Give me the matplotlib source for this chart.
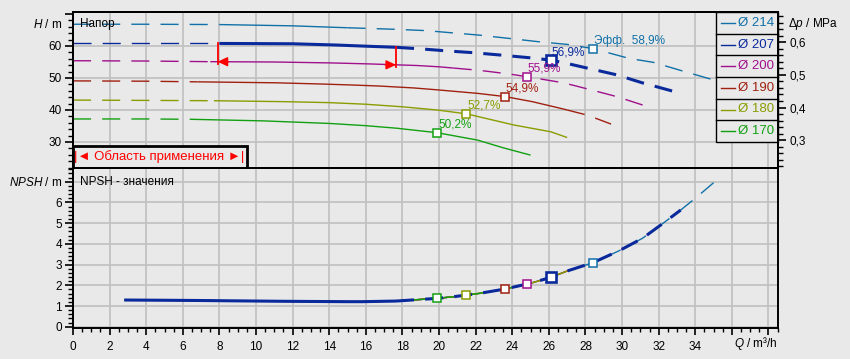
import numpy as np
import matplotlib
matplotlib.use('Agg')
import matplotlib.pyplot as plt
from matplotlib.ticker import MultipleLocator, FixedLocator, FuncFormatter
from matplotlib.patches import Rectangle

plt.rcParams['font.family'] = ['Liberation Sans', 'DejaVu Sans']
plt.rcParams['mathtext.fontset'] = 'custom'
plt.rcParams['mathtext.rm'] = 'Liberation Sans'
plt.rcParams['mathtext.it'] = 'Liberation Sans:italic'
plt.rcParams['lines.scale_dashes'] = False

# ---------------- data ----------------
diameters = ['214', '207', '200', '190', '180', '170']

q_214 = [0, 4, 8, 12, 15, 17.7, 19.3, 22.2, 25.5, 27, 28.4, 30.4, 31.7, 33.3, 35]
h_214 = [66.8, 66.8, 66.7, 66.3, 65.7, 65.2, 64.8, 63.4, 61.3, 60.5, 59.2, 56.1, 54.9, 52.2, 49.4]

q_207 = [0, 4, 8, 12, 14.4, 16.2, 17.65, 19, 20.6, 21.9, 23.3, 25, 26.1, 26.8, 28.4, 29.7, 31.1, 32.7, 33.2]
h_207 = [60.8, 60.8, 60.8, 60.7, 60.3, 59.9, 59.6, 59.1, 58.4, 57.9, 57.2, 56.3, 55.6, 54.8, 52.7, 51.0, 48.5, 46.0, 45.3]

q_200 = [0, 4, 7.5, 11, 14.2, 16.2, 18.8, 20.0, 20.8, 22.2, 23.9, 24.8, 26.8, 28.1, 29.7, 31.1, 31.4]
h_200 = [55.4, 55.3, 55.1, 55.0, 54.7, 54.4, 53.9, 53.5, 53.1, 52.4, 51.2, 50.4, 48.5, 46.6, 44.2, 41.6, 40.8]

q_190 = [0, 4, 6.8, 11.1, 13.7, 15.3, 16.7, 18.6, 19.9, 22.1, 23.6, 25.1, 26.8, 27, 28.1, 29.4]
h_190 = [49.1, 49.0, 48.8, 48.5, 48.1, 47.8, 47.5, 46.9, 46.3, 45.2, 44.2, 42.6, 40.3, 40.0, 38.4, 35.6]

q_180 = [0, 4, 7.7, 11.6, 14, 16, 18, 19.9, 21.5, 24.1, 26.1, 27]
h_180 = [43.1, 43.0, 42.9, 42.6, 42.3, 41.8, 41.0, 40.0, 38.8, 35.3, 33.2, 31.4]

q_170 = [0, 4, 6.4, 10.4, 12.2, 14, 16, 17.7, 19.9, 22.1, 23.5, 25]
h_170 = [37.2, 37.2, 37.1, 36.6, 36.2, 35.8, 35.1, 34.3, 32.9, 30.6, 28.2, 25.9]

q_npsh = [2.8, 6.5, 11.3, 15.0, 15.8, 17.65, 19.9, 20.8, 21.5, 22.2, 23.6, 24.8, 25.0, 26.1, 27.0,
          28.4, 29.4, 29.8, 31.1, 31.4, 32.1, 33.2, 34.1, 35.0]
npsh = [1.29, 1.27, 1.23, 1.21, 1.21, 1.24, 1.37, 1.45, 1.53, 1.61, 1.82, 2.06, 2.10, 2.38, 2.69,
        3.09, 3.49, 3.65, 4.26, 4.45, 4.90, 5.63, 6.27, 6.95]

bep_q = [28.4, 26.1, 24.8, 23.6, 21.5, 19.9]
bep_h = [59.2, 55.6, 50.4, 44.2, 38.8, 32.9]
bep_npsh = [3.09, 2.38, 2.06, 1.82, 1.53, 1.37]
bep_eff = ['Эфф.  58,9%', '56,9%', '55,9%', '54,9%', '52,7%', '50,2%']

app_range = [7.9, 17.65]

curves_q = [q_214, q_207, q_200, q_190, q_180, q_170]
curves_h = [h_214, h_207, h_200, h_190, h_180, h_170]

# ---------------- styles ----------------
colors = ['#1070a8', '#0a2a9c', '#a0108c', '#a02010', '#8a9c00', '#12a012']
widths = [1.0, 2.2, 1.0, 1.0, 1.0, 1.0]
thin = 1.0
solid_from = [8, 8, 7.5, 6.8, 7.7, 6.4]
solid_to = [15, 17.65, 20.8, 27, 27, 25]
DASH = (13, 8)
BG = '#e9e9e9'
GRID = '#c0c0c0'

W, H = 850, 359
fig = plt.figure(figsize=(W / 100, H / 100), dpi=100, facecolor=BG)

def fx(px):
    return px / W

def fy(py):
    return 1 - py / H

L, R = 73, 778
ax = fig.add_axes([fx(L), fy(168), fx(R - L), (168 - 12) / H])
ax2 = fig.add_axes([fx(L), fy(328), fx(R - L), (328 - 168) / H], sharex=ax)

for a in (ax, ax2):
    a.set_facecolor(BG)
    for s in a.spines.values():
        s.set_color('black')
        s.set_linewidth(1.4)
    a.set_axisbelow(True)

ax.set_xlim(0, 38.52)
ax.set_ylim(21.875, 70.625)
ax2.set_ylim(-0.06, 7.66)

# ticks
ax.xaxis.set_major_locator(MultipleLocator(2))
ax.tick_params(axis='x', which='both', bottom=False, labelbottom=False)
ax.yaxis.set_major_locator(FixedLocator([30, 40, 50, 60, 70]))
ax.yaxis.set_minor_locator(MultipleLocator(2))
ax.yaxis.set_major_formatter(FuncFormatter(lambda v, p: '' if v >= 70 else f'{v:.0f}'))
ax.tick_params(axis='y', which='major', length=6, width=1.2, pad=2, labelsize=8.5, direction='out')
ax.tick_params(axis='y', which='minor', length=3.5, width=1.0, direction='out')

ax2.xaxis.set_major_locator(MultipleLocator(2))
ax2.xaxis.set_minor_locator(MultipleLocator(0.5))
ax2.xaxis.set_major_formatter(FuncFormatter(lambda v, p: '' if v > 34.5 else f'{v:.0f}'))
ax2.tick_params(axis='x', which='major', length=5, width=1.2, pad=4, labelsize=8.5, direction='out')
ax2.tick_params(axis='x', which='minor', length=3, width=1.0, direction='out')
ax2.yaxis.set_major_locator(FixedLocator([0, 1, 2, 3, 4, 5, 6, 7]))
ax2.yaxis.set_minor_locator(MultipleLocator(0.2))
ax2.yaxis.set_major_formatter(FuncFormatter(lambda v, p: '' if v >= 6.5 else f'{v:.0f}'))
ax2.tick_params(axis='y', which='major', length=6, width=1.2, pad=2, labelsize=8.5, direction='out')
ax2.tick_params(axis='y', which='minor', length=3.5, width=1.0, direction='out')

ax.grid(True, which='major', color=GRID, lw=1.2)
ax2.grid(True, which='major', color=GRID, lw=1.2)
for t, g in zip(ax.get_yticks(), ax.yaxis.get_gridlines()):
    if t >= 70:
        g.set_visible(False)

# right axis (pressure)
k = 1000 * 9.81 / 1e6
axr = ax.twinx()
axr.set_ylim(21.875 * k, 70.625 * k)
axr.yaxis.set_major_locator(FixedLocator([0.3, 0.4, 0.5, 0.6]))
axr.yaxis.set_minor_locator(MultipleLocator(0.02))
axr.yaxis.set_major_formatter(FuncFormatter(lambda v, p: f'{v:.1f}'.replace('.', ',')))
axr.tick_params(axis='y', which='major', length=6, width=1.2, pad=2, labelsize=8.5, direction='out')
axr.tick_params(axis='y', which='minor', length=3.5, width=1.0, direction='out')
for s in axr.spines.values():
    s.set_color('black')
    s.set_linewidth(1.4)

# ---------------- curves ----------------
for i in range(len(diameters)):
    q = np.array(curves_q[i], float)
    h = np.array(curves_h[i], float)
    a0, b0 = solid_from[i], solid_to[i]
    c, w = colors[i], widths[i]
    z = 5 if i == 1 else 3
    m1 = q <= a0
    m2 = (q >= a0) & (q <= b0)
    m3 = q >= b0
    ax.plot(q[m1], h[m1], color=c, lw=thin, dashes=DASH, zorder=z, dash_capstyle='butt')
    ax.plot(q[m2], h[m2], color=c, lw=w, zorder=z, solid_capstyle='butt')
    if m3.sum() > 1:
        ax.plot(q[m3], h[m3], color=c, lw=w, dashes=DASH, zorder=z, dash_capstyle='butt')

# application range markers
hq207 = np.interp(app_range, q_207, h_207)
hq200 = np.interp(app_range, q_200, h_200)
for j, qa in enumerate(app_range):
    ax.plot([qa, qa], [hq207[j], hq200[j] - 0.8], color='red', lw=1.3, zorder=7)
ax.annotate('', xy=(app_range[0], hq200[0]), xytext=(app_range[0] + 0.6, hq200[0]),
            arrowprops=dict(arrowstyle='-|>,head_length=0.6,head_width=0.28', color='red',
                            lw=1, shrinkA=0, shrinkB=0), zorder=7)
ax.annotate('', xy=(app_range[1], hq200[1]), xytext=(app_range[1] - 0.6, hq200[1]),
            arrowprops=dict(arrowstyle='-|>,head_length=0.6,head_width=0.28', color='red',
                            lw=1, shrinkA=0, shrinkB=0), zorder=7)

# BEP markers + labels
for i in range(len(diameters)):
    ms, mew = (6.5, 1.9) if i == 1 else (5.6, 1.1)
    ax.plot([bep_q[i]], [bep_h[i]], 's', ms=ms, mfc='white', mec=colors[i], mew=mew, zorder=8)
    ax.annotate(bep_eff[i], xy=(bep_q[i], bep_h[i]), xytext=(0.7, 5.8), textcoords='offset points',
                ha='left', va='center', fontsize=8.5, color=colors[i], zorder=8)

# NPSH curves
qn = np.array(q_npsh, float)
nn = np.array(npsh, float)
order = [0, 2, 3, 4, 5, 1]
for i in order:
    qmax = max(curves_q[i])
    b0 = solid_to[i]
    c, w = colors[i], widths[i]
    z = 5 if i == 1 else 3
    m_s = qn <= b0
    m_d = (qn >= b0) & (qn <= qmax)
    ax2.plot(qn[m_s], nn[m_s], color=c, lw=w, zorder=z, solid_capstyle='butt')
    if m_d.sum() > 1:
        ax2.plot(qn[m_d], nn[m_d], color=c, lw=w, dashes=DASH, zorder=z, dash_capstyle='butt')
for i in range(len(diameters)):
    ms, mew = (6.5, 1.9) if i == 1 else (5.6, 1.1)
    ax2.plot([bep_q[i]], [bep_npsh[i]], 's', ms=ms, mfc='white', mec=colors[i], mew=mew, zorder=8)

# ---------------- legend box (upper right) ----------------
lx0 = (716 - L) / (R - L)
ly0 = (168 - 142) / (168 - 12)
rowh = (1 - ly0) / 6
ax.add_patch(Rectangle((lx0, ly0), 1 - lx0, 1 - ly0, transform=ax.transAxes, facecolor=BG,
                       edgecolor='black', lw=1.0, zorder=20, clip_on=False))
for i, d in enumerate(diameters):
    yc = 1 - (i + 0.5) * rowh
    if i > 0:
        ax.plot([lx0, 1], [1 - i * rowh] * 2, transform=ax.transAxes, color='black', lw=1.0,
                zorder=21, clip_on=False)
    ax.plot([(721 - L) / (R - L), (735 - L) / (R - L)], [yc, yc], transform=ax.transAxes,
            color=colors[i], lw=1.0, zorder=21, clip_on=False)
    ax.text((738 - L) / (R - L), yc, 'Ø ' + d, transform=ax.transAxes, color=colors[i],
            fontsize=9.5, ha='left', va='center', zorder=22)

# ---------------- application range box ----------------
bx1 = (247 - L) / (R - L)
by1 = (168 - 146) / (168 - 12)
ax.add_patch(Rectangle((0, 0), bx1, by1, transform=ax.transAxes, facecolor=BG,
                       edgecolor='black', lw=2.0, zorder=20, clip_on=False))
ax.text((159 - L) / (R - L), (168 - 157) / (168 - 12), '|◄ Область применения ►|',
        transform=ax.transAxes, color='red', fontsize=9.5, ha='center', va='center', zorder=22)

# ---------------- texts ----------------
fig.text(fx(62), fy(24), r'$\mathit{H}$ / m', ha='right', va='center', fontsize=8.5)
fig.text(fx(62), fy(182), r'$\mathit{NPSH}$ / m', ha='right', va='center', fontsize=8.5)
fig.text(fx(788), fy(24), r'$\mathit{Δp}$ / MPa', ha='left', va='center', fontsize=8.5)
fig.text(fx(778), fy(344), r'$\mathit{Q}$ / m³/h', ha='right', va='center', fontsize=8.5)
fig.text(fx(80), fy(24), 'Напор', ha='left', va='center', fontsize=8.5, zorder=30)
fig.text(fx(80), fy(182), 'NPSH - значения', ha='left', va='center', fontsize=8.5, zorder=30)

fig.savefig('out.png', dpi=100, facecolor=BG)
